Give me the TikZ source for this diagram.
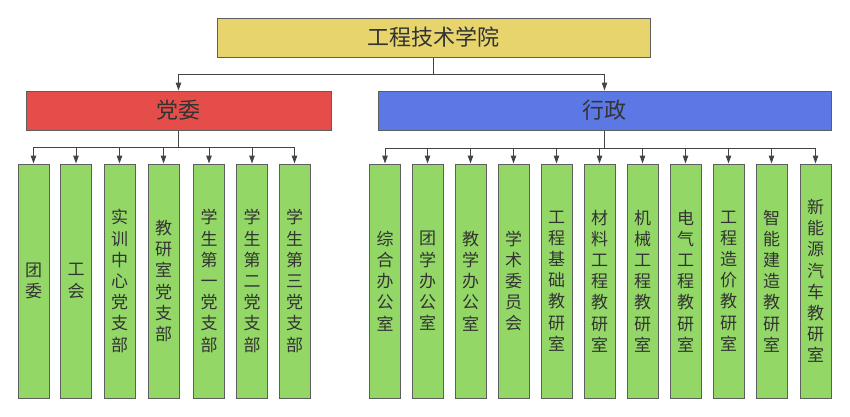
\documentclass[tikz,border=0pt]{standalone}
\usepackage{fontspec}
\setmainfont{Noto Sans CJK SC}
\usetikzlibrary{arrows.meta,calc}
\definecolor{cyellow}{HTML}{E7D46C}
\definecolor{cred}{HTML}{E54D4B}
\definecolor{cblue}{HTML}{5B78E4}
\definecolor{cgreen}{HTML}{93D867}
\definecolor{cborder}{HTML}{5E5E5E}
\definecolor{ctext}{HTML}{333333}
\definecolor{cline}{HTML}{444444}
\begin{document}
\begin{tikzpicture}[x=1pt,y=-1pt,
  box/.style={draw=cborder,line width=1pt,inner sep=0pt,text=ctext},
  topbox/.style={box,fill=cyellow,minimum width=433pt,minimum height=39pt,font=\fontsize{22}{26}\selectfont},
  midbox/.style={box,minimum height=39pt,font=\fontsize{22}{26}\selectfont},
  leaf/.style={box,fill=cgreen,minimum width=31pt,minimum height=234pt,align=center,font=\fontsize{17}{21.2}\selectfont},
  conn/.style={draw=cline,line width=1pt},
  arr/.style={conn,-{Triangle[length=8pt,width=5.5pt]}}]
\useasboundingbox (0,0) rectangle (850,416);
\node[topbox] (root) at (433.5,37.5) {工程技术学院};
\node[midbox,fill=cred,minimum width=305pt] (dw) at (178.5,110.5) {党委};
\node[midbox,fill=cblue,minimum width=453pt] (xz) at (604.5,110.5) {行政};
% left leaves
\node[leaf] (l1) at (33.5,281) {团\\委};
\node[leaf] (l2) at (76,281) {工\\会};
\node[leaf] (l3) at (119.5,281) {实\\训\\中\\心\\党\\支\\部};
\node[leaf] (l4) at (163.5,281) {教\\研\\室\\党\\支\\部};
\node[leaf] (l5) at (209,281) {学\\生\\第\\一\\党\\支\\部};
\node[leaf] (l6) at (252,281) {学\\生\\第\\二\\党\\支\\部};
\node[leaf] (l7) at (294.5,281) {学\\生\\第\\三\\党\\支\\部};
% right leaves
\node[leaf] (r1) at (385,281) {综\\合\\办\\公\\室};
\node[leaf] (r2) at (427.5,281) {团\\学\\办\\公\\室};
\node[leaf] (r3) at (470.5,281) {教\\学\\办\\公\\室};
\node[leaf] (r4) at (513.5,281) {学\\术\\委\\员\\会};
\node[leaf] (r5) at (556.5,281) {工\\程\\基\\础\\教\\研\\室};
\node[leaf] (r6) at (599.5,281) {材\\料\\工\\程\\教\\研\\室};
\node[leaf] (r7) at (642.5,281) {机\\械\\工\\程\\教\\研\\室};
\node[leaf] (r8) at (685.5,281) {电\\气\\工\\程\\教\\研\\室};
\node[leaf] (r9) at (728.5,281) {工\\程\\造\\价\\教\\研\\室};
\node[leaf] (r10) at (771.5,281) {智\\能\\建\\造\\教\\研\\室};
\node[leaf] (r11) at (815.5,281) {新\\能\\源\\汽\\车\\教\\研\\室};
% connectors
\coordinate (tbus) at (433.5,74);
\coordinate (lbus) at (178.5,147);
\coordinate (rbus) at (604.5,148);
\draw[conn] (root.south) -- (tbus);
\draw[conn] (tbus -| dw.north) -- (tbus -| xz.north);
\draw[arr] (tbus -| dw.north) -- (dw.north);
\draw[arr] (tbus -| xz.north) -- (xz.north);
\draw[conn] (dw.south) -- (lbus);
\draw[conn] (lbus -| l1.north) -- (lbus -| l7.north);
\foreach \n in {l1,l2,l3,l4,l5,l6,l7}
  \draw[arr] (lbus -| \n.north) -- (\n.north);
\draw[conn] (xz.south) -- (rbus);
\draw[conn] (rbus -| r1.north) -- (rbus -| r11.north);
\foreach \n in {r1,r2,r3,r4,r5,r6,r7,r8,r9,r10,r11}
  \draw[arr] (rbus -| \n.north) -- (\n.north);
\end{tikzpicture}
\end{document}
